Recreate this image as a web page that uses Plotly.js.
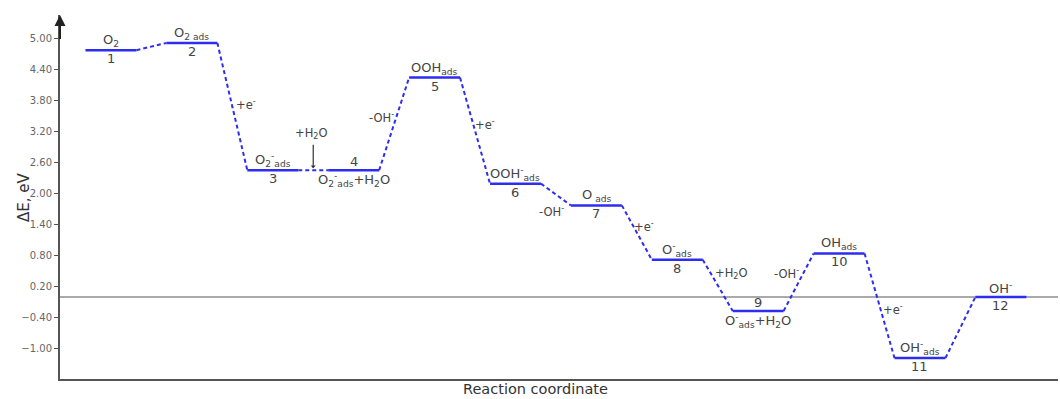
<!DOCTYPE html>
<html>
<head>
<meta charset="utf-8">
<script src="https://cdn.plot.ly/plotly-3.0.1.min.js"></script>
<style>html,body{margin:0;padding:0;background:#fff;}#chart{width:1060px;height:399px;}</style>
</head>
<body>
<div id="chart"></div>
<script>
// ---- data ----
var steps = [1, 2, 3, 4, 5, 6, 7, 8, 9, 10, 11, 12];
var energies = [4.77, 4.91, 2.45, 2.45, 4.24, 2.19, 1.77, 0.72, -0.27, 0.84, -1.18, 0.00];
var stepNumbers = ["1", "2", "3", "4", "5", "6", "7", "8", "9", "10", "11", "12"];
var speciesLabels = [
  "O<sub>2</sub>",
  "O<sub>2 ads</sub>",
  "O<sub>2</sub><sup>-</sup><sub>ads</sub>",
  "O<sub>2</sub><sup>-</sup><sub>ads</sub>+H<sub>2</sub>O",
  "OOH<sub>ads</sub>",
  "OOH<sup>-</sup><sub>ads</sub>",
  "O<sub> ads</sub>",
  "O<sup>-</sup><sub>ads</sub>",
  "O<sup>-</sup><sub>ads</sub>+H<sub>2</sub>O",
  "OH<sub>ads</sub>",
  "OH<sup>-</sup><sub>ads</sub>",
  "OH<sup>-</sup>"
];
// label below the level instead of above (number goes above)
var speciesBelow = [false, false, false, true, false, false, false, false, true, false, false, false];
// transitions: label between step i and i+1 (index of first step)
var transitionFrom = [2, 4, 5, 6, 7, 8, 9, 10];
var transitionLabels = ["+e<sup>-</sup>", "-OH<sup>-</sup>", "+e<sup>-</sup>", "-OH<sup>-</sup>", "+e<sup>-</sup>", "+H<sub>2</sub>O", "-OH<sup>-</sup>", "+e<sup>-</sup>"];
var waterAddLabel = "+H<sub>2</sub>O";
var yTickVals = [5.00, 4.40, 3.80, 3.20, 2.60, 2.00, 1.40, 0.80, 0.20, -0.40, -1.00];
var xTitle = "Reaction coordinate";
var yTitle = "ΔE, eV";

// ---- styles / positions ----
var BLUE = "#2d2df2";
var TEXT = "#444444";
var HALF = 0.315;
var FONT = "DejaVu Sans, Verdana, sans-serif";
// pixel offsets of transition labels relative to connector midpoint
var transShift = [[14, 2], [-13, 6], [10, 6], [-4, -17], [7, 6], [13, 12], [-12, 9], [13, -4]];

// ---- build traces ----
var lvX = [], lvY = [], cnX = [], cnY = [];
for (var i = 0; i < steps.length; i++) {
  lvX.push(steps[i] - HALF, steps[i] + HALF, null);
  lvY.push(energies[i], energies[i], null);
  if (i < steps.length - 1) {
    cnX.push(steps[i] + HALF, steps[i + 1] - HALF, null);
    cnY.push(energies[i], energies[i + 1], null);
  }
}
var traces = [
  {x: cnX, y: cnY, mode: "lines", type: "scatter", hoverinfo: "skip",
   line: {color: BLUE, width: 2, dash: "4px,3px"}},
  {x: lvX, y: lvY, mode: "lines", type: "scatter", hoverinfo: "skip",
   line: {color: BLUE, width: 2.5}}
];

// ---- annotations ----
var ann = [];
for (var i = 0; i < steps.length; i++) {
  var above = speciesBelow[i] ? stepNumbers[i] : speciesLabels[i];
  var below = speciesBelow[i] ? speciesLabels[i] : stepNumbers[i];
  ann.push({x: steps[i], y: energies[i], xref: "x", yref: "y", text: above, showarrow: false,
            yanchor: "bottom", yshift: -1, font: {family: FONT, size: 13, color: TEXT}});
  ann.push({x: steps[i], y: energies[i], xref: "x", yref: "y", text: below, showarrow: false,
            yanchor: "top", yshift: 1, font: {family: FONT, size: 13, color: TEXT}});
}
for (var k = 0; k < transitionFrom.length; k++) {
  var a = transitionFrom[k] - 1;
  var mx = (steps[a] + steps[a + 1]) / 2;
  var my = (energies[a] + energies[a + 1]) / 2;
  ann.push({x: mx, y: my, xref: "x", yref: "y", text: transitionLabels[k], showarrow: false,
            xshift: transShift[k][0], yshift: transShift[k][1],
            font: {family: FONT, size: 11.5, color: TEXT}});
}
// H2O addition arrow between steps 3 and 4
var midX34 = (steps[2] + steps[3]) / 2;
ann.push({x: midX34, y: energies[2] + 0.04, ax: midX34, ay: energies[2] + 0.52, xref: "x", yref: "y",
          axref: "x", ayref: "y", text: "", showarrow: true, arrowhead: 1, arrowsize: 0.7,
          arrowwidth: 1.2, arrowcolor: "#333"});
ann.push({x: midX34, y: energies[2] + 0.52, xref: "x", yref: "y", text: waterAddLabel, showarrow: false,
          yanchor: "bottom", xshift: -2, yshift: 0, font: {family: FONT, size: 11.5, color: TEXT}});
// y-axis arrow head
ann.push({x: 0, y: 1.0, ax: 0, ay: 0.93, xref: "paper", yref: "paper", axref: "paper", ayref: "paper",
          text: "", showarrow: true, arrowhead: 2, arrowsize: 1.1, arrowwidth: 2, arrowcolor: "#222"});
// axis titles
ann.push({x: 0.476, y: -0.028, xref: "paper", yref: "paper", text: xTitle, showarrow: false,
          xanchor: "center", yanchor: "middle", font: {family: FONT, size: 14.5, color: "#333"}});
ann.push({x: -0.036, y: 0.5, xref: "paper", yref: "paper", text: yTitle, showarrow: false, textangle: -90,
          xanchor: "center", yanchor: "middle", font: {family: FONT, size: 15, color: "#333"}});

var layout = {
  width: 1060, height: 399,
  margin: {l: 60, r: 2, t: 15, b: 20, pad: 0},
  paper_bgcolor: "#fff", plot_bgcolor: "#fff",
  showlegend: false,
  xaxis: {range: [0.37, 12.706], showgrid: false, zeroline: false, showticklabels: false, ticks: "",
          showline: true, linecolor: "#555", linewidth: 2, fixedrange: true, title: {text: ""}},
  yaxis: {range: [-1.586, 5.45], showgrid: false, zeroline: true, zerolinecolor: "#aaaaaa", zerolinewidth: 2,
          showline: true, linecolor: "#555", linewidth: 2, ticks: "outside", ticklen: 4, tickwidth: 1.5,
          tickcolor: "#555", tickvals: yTickVals, tickformat: ".2f",
          tickfont: {family: FONT, size: 10, color: "#666"}, fixedrange: true, title: {text: ""}},
  annotations: ann
};
Plotly.newPlot("chart", traces, layout, {displayModeBar: false, staticPlot: true});
</script>
</body>
</html>
